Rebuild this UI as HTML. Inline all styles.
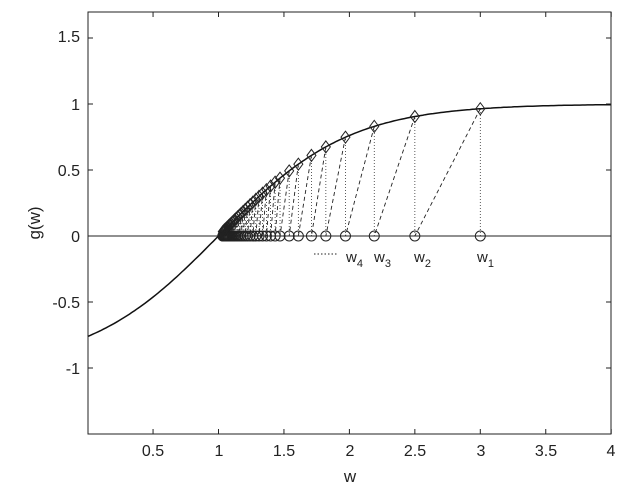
<!DOCTYPE html>
<html><head><style>body{margin:0;background:#fff}svg{display:block}text{font-family:"Liberation Sans",Arial,sans-serif;fill:#222}</style></head>
<body>
<svg id="s" width="622" height="492" xmlns="http://www.w3.org/2000/svg">
<rect width="622" height="492" fill="#fff"/>
<g id="g"></g>
<rect x="88" y="12" width="523" height="422" fill="none" stroke="#222" stroke-width="1"/>
<g font-size="16" text-anchor="middle">
<text x="153" y="456">0.5</text><text x="219" y="456">1</text><text x="284" y="456">1.5</text><text x="350" y="456">2</text><text x="415" y="456">2.5</text><text x="481" y="456">3</text><text x="546" y="456">3.5</text><text x="611" y="456">4</text>
<text x="350" y="482" font-size="17">w</text>
</g>
<g font-size="16" text-anchor="end">
<text x="80" y="42">1.5</text><text x="80" y="110">1</text><text x="80" y="176">0.5</text><text x="80" y="242">0</text><text x="80" y="308">-0.5</text><text x="80" y="374">-1</text>
</g>
<text transform="translate(40,223) rotate(-90)" font-size="17" text-anchor="middle">g(w)</text>
<g font-size="15">
<line x1="314" y1="254" x2="338" y2="254" stroke="#222" stroke-dasharray="1.5,2"/>
<text x="346" y="262">w<tspan font-size="11" dy="5">4</tspan></text>
<text x="374" y="262">w<tspan font-size="11" dy="5">3</tspan></text>
<text x="414" y="262">w<tspan font-size="11" dy="5">2</tspan></text>
<text x="477" y="262">w<tspan font-size="11" dy="5">1</tspan></text>
</g>
</svg>
<script>
const X=w=>87.6+130.9*w, Y=v=>236-132*v, f=w=>Math.tanh(w-1);
let h='';
for(let i=1;i<=8;i++){let x=X(i*0.5);h+=`<line x1="${x}" y1="434" x2="${x}" y2="429" stroke="#222"/><line x1="${x}" y1="12" x2="${x}" y2="17" stroke="#222"/>`;}
for(let v of [-1,-0.5,0,0.5,1,1.5]){let y=Y(v);h+=`<line x1="88" y1="${y}" x2="93" y2="${y}" stroke="#222"/><line x1="611" y1="${y}" x2="606" y2="${y}" stroke="#222"/>`;}
h+=`<line x1="88" y1="236" x2="611" y2="236" stroke="#222"/>`;
let p='';for(let w=0;w<=4.001;w+=0.02)p+=(p?'L':'M')+X(w).toFixed(1)+','+Y(f(w)).toFixed(1);
h+=`<path d="${p}" fill="none" stroke="#111" stroke-width="1.5"/>`;
let ds=[2,1.5,1.19,0.97,0.82,0.71,0.61,0.54,0.47],d=0.47;
while(d>0.035){d*=0.92;ds.push(d);}
let ws=ds.map(d=>1+d);
for(let k=0;k<ws.length;k++){let w=ws[k],x=X(w),y=Y(f(w));
h+=`<line x1="${x}" y1="236" x2="${x}" y2="${y}" stroke="#333" stroke-width="0.8" stroke-dasharray="1,2"/>`;
if(k+1<ws.length)h+=`<line x1="${x}" y1="${y}" x2="${X(ws[k+1])}" y2="236" stroke="#222" stroke-width="0.9" stroke-dasharray="4,3"/>`;}
for(let w of ws){let x=X(w),y=Y(f(w));
h+=`<circle cx="${x}" cy="236" r="5" fill="none" stroke="#222"/>`;
h+=`<path d="M${x},${y-6}L${x+4.5},${y}L${x},${y+6}L${x-4.5},${y}Z" fill="none" stroke="#222"/>`;}
document.getElementById('g').innerHTML=h;
</script>
</body></html>
